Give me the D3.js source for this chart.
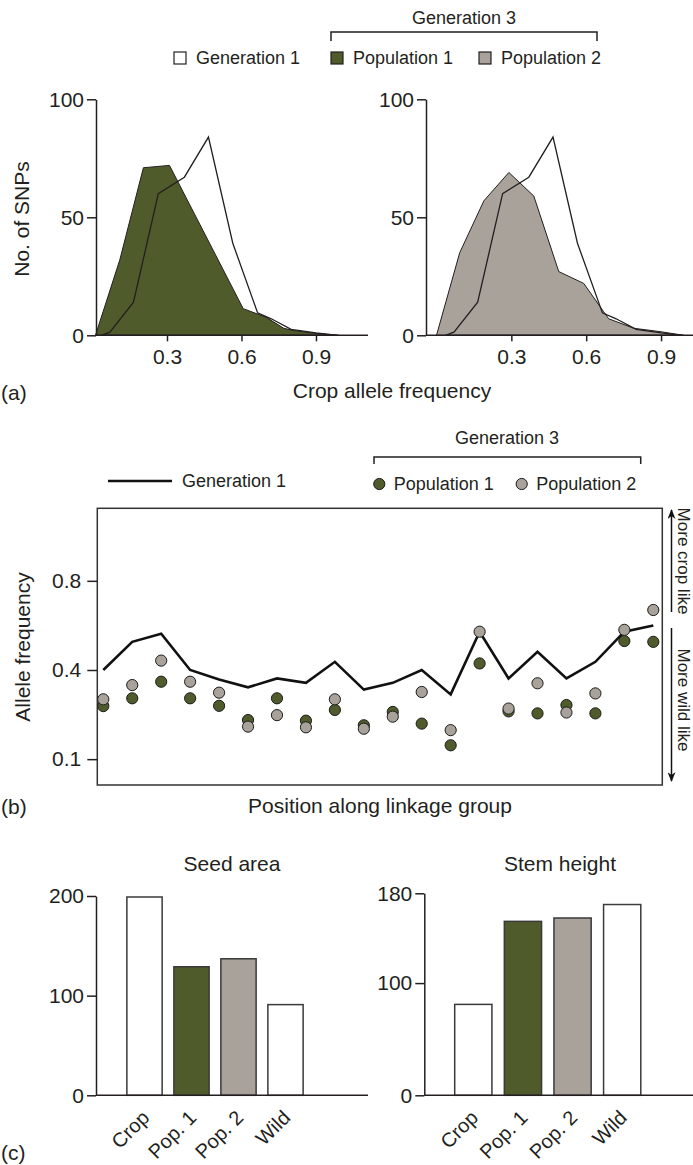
<!DOCTYPE html>
<html>
<head>
<meta charset="utf-8">
<script src="https://cdn.jsdelivr.net/npm/d3@7"></script>
<style>
  body { margin: 0; background: #fff; }
  svg text { font-family: "Liberation Sans", Arial, Helvetica, sans-serif; fill: #231f20; }
</style>
</head>
<body>
<svg width="693" height="1165"></svg>
<script>
// (a) number of SNPs by crop allele frequency
const gen1Freq = [0.035, 0.07, 0.165, 0.265, 0.37, 0.467, 0.565, 0.665, 0.72, 0.8, 0.9, 0.99];
const gen1Snps = [0, 1.3, 14, 60, 67, 84, 39, 9.5, 7, 2.5, 1, 0];
const pop1Freq = [0.012, 0.11, 0.205, 0.31, 0.607, 0.7, 0.77, 0.81, 0.9, 0.99];
const pop1Snps = [0, 32, 71, 72, 11.3, 7.6, 3, 2, 0.8, 0];
const pop2Freq = [0, 0.093, 0.19, 0.29, 0.39, 0.49, 0.59, 0.67, 0.69, 0.79, 0.9, 0.99];
const pop2Snps = [0, 35, 57, 69, 59, 27, 22, 10, 7, 3, 1.5, 0];
const snpTicks = [0, 50, 100];
const freqTicks = [0.3, 0.6, 0.9];

// (b) allele frequency along the linkage group
const positions = d3.range(1, 21);
const gen1Allele = [0.40, 0.54, 0.58, 0.40, 0.355, 0.32, 0.36, 0.34, 0.44, 0.31,
  0.34, 0.40, 0.29, 0.59, 0.36, 0.49, 0.36, 0.44, 0.59, 0.62];
const pop1Allele = [0.244, 0.274, 0.345, 0.274, 0.245, 0.196, 0.274, 0.194, 0.23, 0.18,
  0.223, 0.185, 0.128, 0.432, 0.225, 0.218, 0.248, 0.218, 0.544, 0.54];
const pop2Allele = [0.27, 0.33, 0.446, 0.345, 0.297, 0.176, 0.212, 0.174, 0.27, 0.17,
  0.207, 0.30, 0.166, 0.59, 0.235, 0.338, 0.221, 0.294, 0.599, 0.69];
const alleleTicks = [0.8, 0.4, 0.1];

// (c) phenotypes
const groups = ['Crop', 'Pop. 1', 'Pop. 2', 'Wild'];
const seedArea = [199, 129, 137, 91];
const stemHeight = [81, 155, 158, 170];

const svg = d3.select('svg');
const ink = '#231f20';
const green = '#505b2c';
const grey = '#a8a29a';
const groupFill = ['#fff', green, grey, '#fff'];

function styleAxis(g, size) {
  g.attr('font-family', null).attr('font-size', null);
  g.selectAll('path, line').attr('stroke', ink).attr('stroke-width', 1.5);
  g.selectAll('text').attr('font-size', size).attr('fill', ink);
}

function hline(x1, x2, y, w) {
  return svg.append('line')
    .attr('x1', x1).attr('x2', x2).attr('y1', y).attr('y2', y)
    .attr('stroke', ink).attr('stroke-width', w || 1.5);
}

// ---------- (a) ----------
function spectrum(axisX, xRange, baseEnd, freq, snps, fill) {
  const x = d3.scaleLinear().domain([0, 1]).range(xRange);
  const y = d3.scaleLinear().domain([0, 100]).range([335.3, 99.3]);
  const area = d3.area().x(d => x(d.f)).y0(y(0)).y1(d => y(d.n));
  const gen1 = gen1Freq.map((f, i) => ({ f, n: gen1Snps[i] }));
  const pop = freq.map((f, i) => ({ f, n: snps[i] }));
  const g = svg.append('g');
  g.append('path').datum(gen1).attr('d', area).attr('fill', '#fff');
  g.append('path').datum(pop).attr('d', area)
    .attr('fill', fill).attr('stroke', ink).attr('stroke-width', 1);
  g.append('path').datum(gen1).attr('d', area)
    .attr('fill', 'none').attr('stroke', ink).attr('stroke-width', 1.3);
  hline(axisX, baseEnd, y(0));
  svg.append('g')
    .attr('transform', `translate(${axisX},0)`)
    .call(d3.axisLeft(y).tickValues(snpTicks).tickSize(9).tickSizeOuter(0).tickPadding(3))
    .call(styleAxis, 21);
  svg.append('g')
    .attr('transform', `translate(0,${y(0)})`)
    .call(d3.axisBottom(x).tickValues(freqTicks).tickSize(6).tickPadding(8).tickFormat(d3.format('.1f')))
    .call(g => g.select('.domain').remove())
    .call(styleAxis, 21);
}

spectrum(96, [92.5, 340.8], 368, pop1Freq, pop1Snps, green);
spectrum(426, [436.5, 686], 693, pop2Freq, pop2Snps, grey);

svg.append('text').attr('x', 22).attr('y', 219)
  .attr('transform', 'rotate(-90,22,219)').attr('text-anchor', 'middle').attr('dy', '0.35em')
  .attr('font-size', 21).text('No. of SNPs');
svg.append('text').attr('x', 392).attr('y', 398).attr('text-anchor', 'middle')
  .attr('font-size', 21).text('Crop allele frequency');
svg.append('text').attr('x', 1).attr('y', 400).attr('font-size', 21).text('(a)');

// legend (a)
svg.append('text').attr('x', 464).attr('y', 18).attr('dy', '0.35em').attr('text-anchor', 'middle')
  .attr('font-size', 18).text('Generation 3');
svg.append('path').attr('d', 'M331,41V32H597V41').attr('fill', 'none').attr('stroke', ink).attr('stroke-width', 1.5);
const legA = [
  { x: 174, fill: '#fff', label: 'Generation 1' },
  { x: 331, fill: green, label: 'Population 1' },
  { x: 479, fill: grey, label: 'Population 2' }
];
const legAG = svg.append('g').selectAll('g').data(legA).enter().append('g');
legAG.append('rect').attr('x', d => d.x).attr('y', 52).attr('width', 12).attr('height', 12)
  .attr('fill', d => d.fill).attr('stroke', ink).attr('stroke-width', 1.2);
legAG.append('text').attr('x', d => d.x + 22).attr('y', 58).attr('dy', '0.35em')
  .attr('font-size', 18).text(d => d.label);

// ---------- (b) ----------
const logit = p => Math.log(p / (1 - p));
const xB = d3.scalePoint().domain(positions).range([103.3, 653.3]);
const yB = d3.scaleLinear().domain([logit(0.062), logit(0.945)]).range([785, 508.3]);

svg.append('rect').attr('x', 97.3).attr('y', 508.3).attr('width', 565).attr('height', 276.7)
  .attr('fill', 'none').attr('stroke', '#333').attr('stroke-width', 1.5);

svg.append('g')
  .attr('transform', 'translate(97.3,0)')
  .call(d3.axisLeft(yB).tickValues(alleleTicks.map(logit)).tickSize(10).tickPadding(6)
    .tickFormat(v => d3.format('.1f')(1 / (1 + Math.exp(-v)))))
  .call(g => g.select('.domain').remove())
  .call(styleAxis, 21);

svg.append('path').datum(gen1Allele)
  .attr('d', d3.line().x((d, i) => xB(positions[i])).y(d => yB(logit(d))))
  .attr('fill', 'none').attr('stroke', '#111').attr('stroke-width', 2.6).attr('stroke-linejoin', 'miter');

[[pop1Allele, green], [pop2Allele, grey]].forEach(([vals, fill]) => {
  svg.append('g').selectAll('circle').data(vals).enter().append('circle')
    .attr('cx', (d, i) => xB(positions[i]))
    .attr('cy', d => yB(logit(d)))
    .attr('r', 5.6)
    .attr('fill', fill).attr('stroke', '#1b1b1b').attr('stroke-width', 1);
});

svg.append('text').attr('x', 23).attr('y', 647)
  .attr('transform', 'rotate(-90,23,647)').attr('text-anchor', 'middle').attr('dy', '0.35em')
  .attr('font-size', 21).text('Allele frequency');
svg.append('text').attr('x', 380).attr('y', 813).attr('text-anchor', 'middle')
  .attr('font-size', 21).text('Position along linkage group');
svg.append('text').attr('x', 1).attr('y', 814).attr('font-size', 21).text('(b)');

// legend (b)
svg.append('text').attr('x', 507).attr('y', 438).attr('dy', '0.35em').attr('text-anchor', 'middle')
  .attr('font-size', 18).text('Generation 3');
svg.append('path').attr('d', 'M374,464V457H640.7V464').attr('fill', 'none').attr('stroke', ink).attr('stroke-width', 1.5);
hline(108, 172, 481, 2.6).attr('stroke', '#111');
svg.append('text').attr('x', 182).attr('y', 481).attr('dy', '0.35em').attr('font-size', 18).text('Generation 1');
const legB = [
  { x: 379.3, fill: green, label: 'Population 1' },
  { x: 521.7, fill: grey, label: 'Population 2' }
];
const legBG = svg.append('g').selectAll('g').data(legB).enter().append('g');
legBG.append('circle').attr('cx', d => d.x).attr('cy', 484).attr('r', 5.6)
  .attr('fill', d => d.fill).attr('stroke', '#1b1b1b').attr('stroke-width', 1);
legBG.append('text').attr('x', d => d.x + 14.5).attr('y', 484).attr('dy', '0.35em')
  .attr('font-size', 18).text(d => d.label);

// crop-like / wild-like arrows
svg.append('defs').append('marker')
  .attr('id', 'arrow').attr('viewBox', '0 0 10 8').attr('refX', 9).attr('refY', 4)
  .attr('markerWidth', 10).attr('markerHeight', 8).attr('markerUnits', 'userSpaceOnUse')
  .attr('orient', 'auto')
  .append('path').attr('d', 'M0,0L10,4L0,8L3,4Z').attr('fill', '#111');
[[612, 510], [628, 781]].forEach(([a, b]) => {
  svg.append('line').attr('x1', 671.5).attr('x2', 671.5).attr('y1', a).attr('y2', b)
    .attr('stroke', '#111').attr('stroke-width', 1.5).attr('marker-end', 'url(#arrow)');
});
[['More crop like', 561], ['More wild like', 700]].forEach(([t, cy]) => {
  svg.append('text').attr('x', 677).attr('y', cy)
    .attr('transform', `rotate(90,677,${cy})`).attr('text-anchor', 'middle')
    .attr('dy', '-0.05em').attr('font-size', 17).text(t);
});

// ---------- (c) ----------
function bars(title, titleX, axisX, band, baseEnd, values, maxV, pxPerUnit, ticks) {
  const x = d3.scaleBand().domain(groups).range(band).paddingInner(0.25).paddingOuter(0.125);
  const y = d3.scaleLinear().domain([0, maxV]).range([1095.3, 1095.3 - maxV * pxPerUnit]);
  svg.append('g').selectAll('rect').data(values).enter().append('rect')
    .attr('x', (d, i) => x(groups[i]))
    .attr('width', x.bandwidth())
    .attr('y', d => y(d))
    .attr('height', d => y(0) - y(d))
    .attr('fill', (d, i) => groupFill[i])
    .attr('stroke', '#3a3a3a').attr('stroke-width', 1.5);
  hline(axisX, baseEnd, y(0));
  svg.append('g')
    .attr('transform', `translate(${axisX},0)`)
    .call(d3.axisLeft(y).tickValues(ticks).tickSize(9).tickSizeOuter(0).tickPadding(3))
    .call(styleAxis, 21);
  svg.append('g').selectAll('text').data(groups).enter().append('text')
    .attr('transform', d => `translate(${x(d) + x.bandwidth() / 2 + 6},1119) rotate(-45)`)
    .attr('text-anchor', 'end').attr('font-size', 20).text(d => d);
  svg.append('text').attr('x', titleX).attr('y', 864).attr('dy', '0.35em')
    .attr('text-anchor', 'middle').attr('font-size', 21).text(title);
}

bars('Seed area', 232, 96, [121, 309], 368, seedArea, 200, 0.9965, [0, 100, 200]);
bars('Stem height', 560, 424.3, [448.5, 647], 693, stemHeight, 180, 1.1222, [0, 100, 180]);
svg.append('text').attr('x', 1).attr('y', 1160).attr('font-size', 21).text('(c)');
</script>
</body>
</html>
